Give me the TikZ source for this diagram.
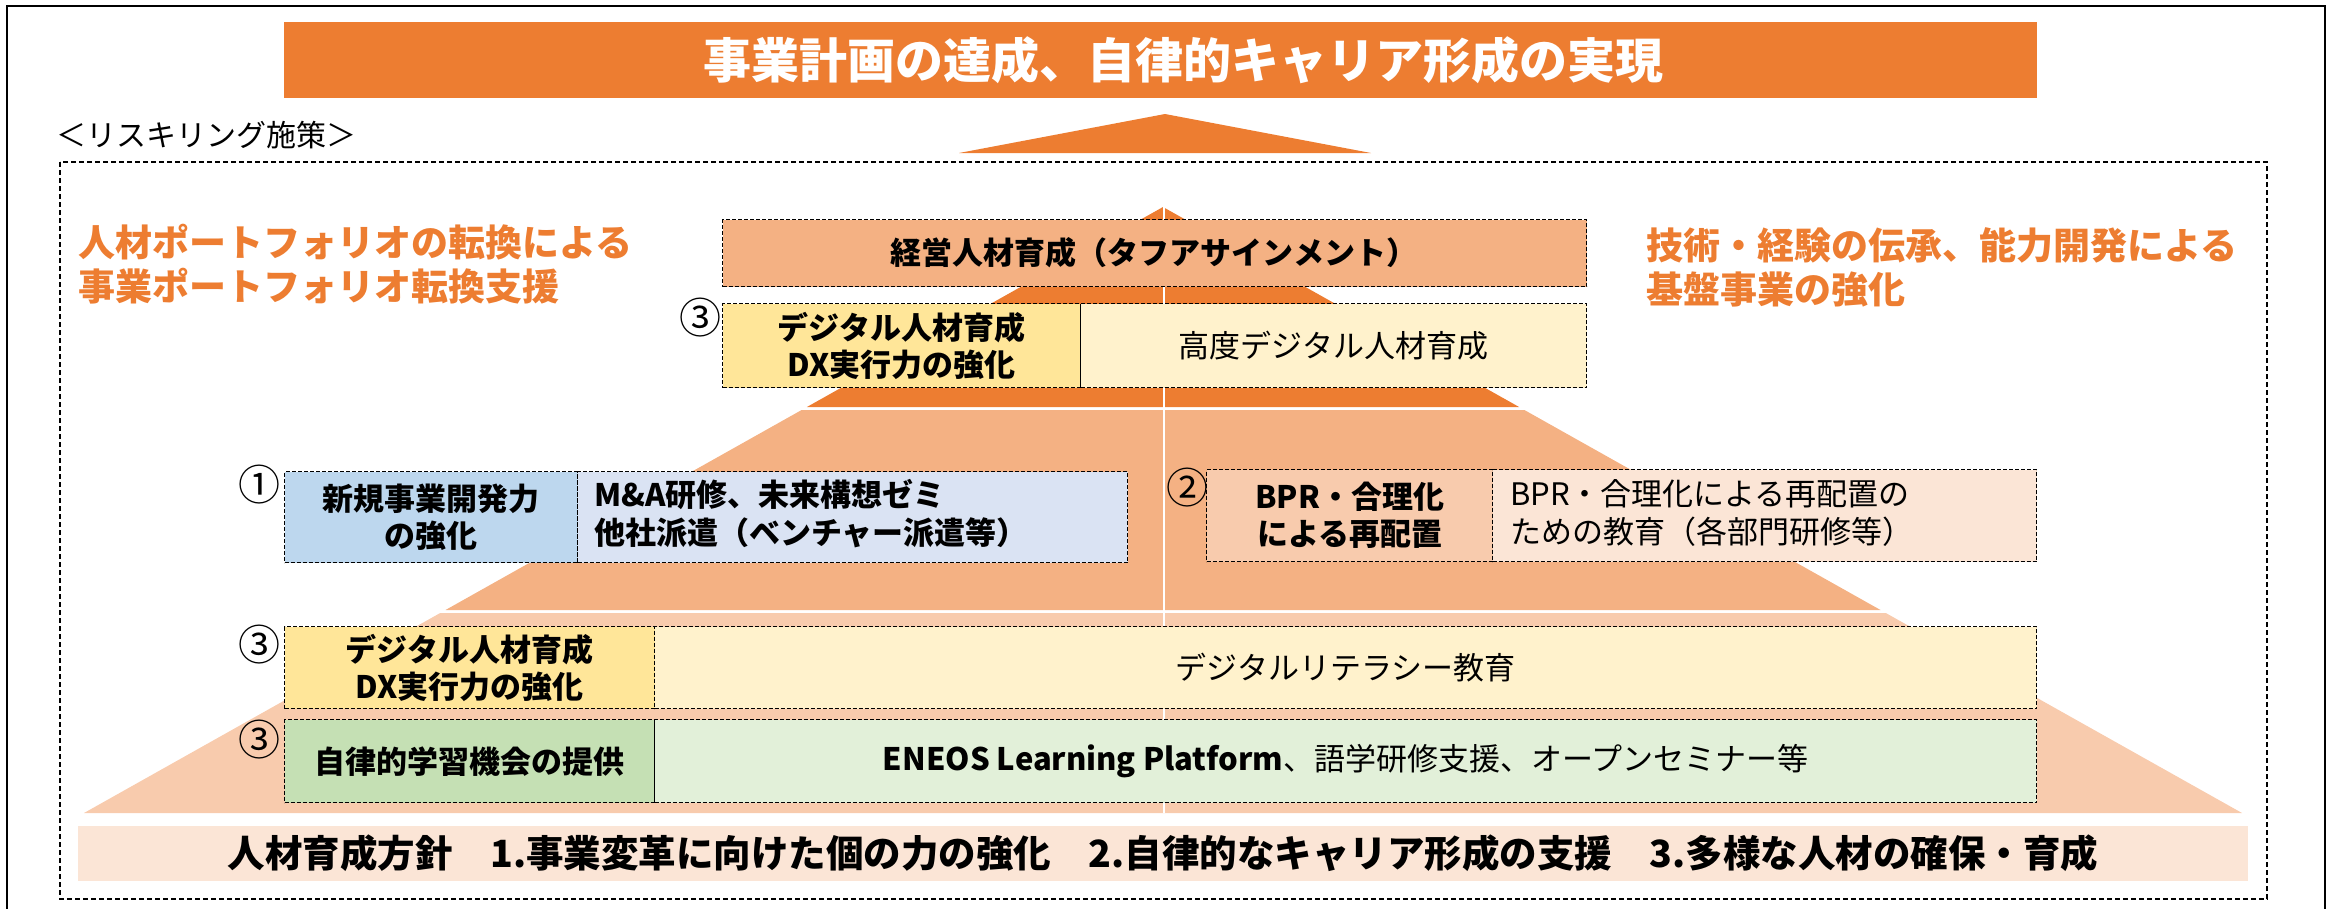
\documentclass[tikz,border=0pt]{standalone}
\usepackage{fontspec}
\setmainfont{Noto Sans CJK JP}
\definecolor{orgA}{HTML}{ED7D31}
\definecolor{orgB}{HTML}{F4B183}
\definecolor{orgC}{HTML}{F8CBAD}
\definecolor{orgD}{HTML}{FBE5D6}
\definecolor{ylwA}{HTML}{FFE699}
\definecolor{ylwB}{HTML}{FFF2CC}
\definecolor{bluA}{HTML}{BDD7EE}
\definecolor{bluB}{HTML}{DAE3F3}
\definecolor{grnA}{HTML}{C5E0B4}
\definecolor{grnB}{HTML}{E2F0D9}
\begin{document}
\begin{tikzpicture}[x=1pt,y=-1pt,
  cell/.style={draw=black,line width=1.3pt,dash pattern=on 4pt off 2pt,inner sep=0pt,anchor=north west},
  boxtxt/.style={font=\fontsize{31}{36}\selectfont,align=center,inner sep=0pt},
  boxtxtl/.style={font=\fontsize{31}{38}\selectfont,align=left,inner sep=0pt,anchor=west},
  sidetxt/.style={font=\fontsize{37}{44}\selectfont\bfseries,text=orgA,align=left,inner sep=0pt,anchor=west},
  num/.style={font=\fontsize{42}{42}\selectfont,inner sep=0pt}]
\useasboundingbox (0,0) rectangle (2341,908);
% outer frame
\draw[line width=2pt] (7,940) -- (7,6) -- (2325,6) -- (2325,940);
% title
\node[fill=orgA,inner sep=0pt,minimum width=1753pt,minimum height=76pt,anchor=north west] (title) at (284,22) {};
\node[font=\fontsize{48}{48}\selectfont\bfseries,text=white,inner sep=0pt] (titletxt) at (1183,60) {事業計画の達成、自律的キャリア形成の実現};
\fill[orgA] (959,153) -- (1165,114) -- (1371,153) -- cycle;
% label
\node[font=\fontsize{30}{30}\selectfont,inner sep=0pt,anchor=west] (lbl) at (56,135) {＜リスキリング施策＞};
% dashed frame
\draw[line width=1.2pt,dash pattern=on 5pt off 3pt] (60,162) rectangle (2267,899);
% side texts
\node[sidetxt] (lefttxt) at (78,264) {人材ポートフォリオの転換による\\事業ポートフォリオ転換支援};
\node[sidetxt] (righttxt) at (1646,267) {技術・経験の伝承、能力開発による\\基盤事業の強化};
% pyramid
\fill[orgA] (1163,207) -- (1519.1,407) -- (806.9,407) -- cycle;
\fill[orgB] (801.6,410) -- (1524.4,410) -- (1880.5,610) -- (445.5,610) -- cycle;
\fill[orgC] (440.2,613) -- (1885.8,613) -- (2242,813) -- (84,813) -- cycle;
\draw[white,line width=2.5pt] (1164,203) -- (1164,813);
% box 1
\node[cell,fill=orgB,minimum width=864pt,minimum height=67pt] (b1) at (722,219) {};
\node[boxtxt,font=\fontsize{31}{36}\selectfont\bfseries] (b1t) at (1154,252.5) {経営人材育成（タフアサインメント）};
% box 2
\node[cell,fill=ylwA,minimum width=358pt,minimum height=84pt] (b2l) at (722,303) {};
\node[cell,fill=ylwB,minimum width=506pt,minimum height=84pt] (b2r) at (1080,303) {};
\node[boxtxt,font=\fontsize{31}{37}\selectfont\bfseries] (b2lt) at (b2l.center) {デジタル人材育成\\DX実行力の強化};
\node[boxtxt] (b2rt) at (b2r.center) {高度デジタル人材育成};
\node[num] (n2) at (700,318) {③};
% row 1
\node[cell,fill=bluA,minimum width=293pt,minimum height=91pt] (r1l) at (284,471) {};
\node[cell,fill=bluB,minimum width=550pt,minimum height=91pt] (r1r) at (577,471) {};
\node[boxtxt,font=\fontsize{31}{37}\selectfont\bfseries] (r1lt) at (r1l.center) {新規事業開発力\\の強化};
\node[boxtxtl,font=\fontsize{31}{38}\selectfont\bfseries] (r1rt) at (594,514) {M\&A研修、未来構想ゼミ\\他社派遣（ベンチャー派遣等）};
\node[num] (n1) at (259,485) {①};
% row 2
\node[cell,fill=orgC,minimum width=286pt,minimum height=92pt] (r2l) at (1206,469) {};
\node[cell,fill=orgD,minimum width=544pt,minimum height=92pt] (r2r) at (1492,469) {};
\node[boxtxt,font=\fontsize{31}{37}\selectfont\bfseries] (r2lt) at (r2l.center) {BPR・合理化\\による再配置};
\node[boxtxtl] (r2rt) at (1510,513) {BPR・合理化による再配置の\\ための教育（各部門研修等）};
\node[num] (n3) at (1187,488) {②};
% row 3
\node[cell,fill=ylwA,minimum width=370pt,minimum height=82pt] (r3l) at (284,626) {};
\node[cell,fill=ylwB,minimum width=1382pt,minimum height=82pt] (r3r) at (654,626) {};
\node[boxtxt,font=\fontsize{31}{37}\selectfont\bfseries] (r3lt) at (r3l.center) {デジタル人材育成\\DX実行力の強化};
\node[boxtxt] (r3rt) at (r3r.center) {デジタルリテラシー教育};
\node[num] (n4) at (259,645) {③};
% row 4
\node[cell,fill=grnA,minimum width=370pt,minimum height=83pt] (r4l) at (284,719) {};
\node[cell,fill=grnB,minimum width=1382pt,minimum height=83pt] (r4r) at (654,719) {};
\node[boxtxt,font=\fontsize{31}{36}\selectfont\bfseries] (r4lt) at (r4l.center) {自律的学習機会の提供};
\node[boxtxt] (r4rt) at (r4r.center) {{\bfseries ENEOS Learning Platform}、語学研修支援、オープンセミナー等};
\node[num] (n5) at (259,740) {③};
% bottom band
\node[fill=orgD,inner sep=0pt,minimum width=2170pt,minimum height=55pt,anchor=north west] (band) at (78,826) {};
\node[font=\fontsize{37.5}{37.5}\selectfont\bfseries,inner sep=0pt] (bandt) at (1163,853.5) {人材育成方針　1.事業変革に向けた個の力の強化　2.自律的なキャリア形成の支援　3.多様な人材の確保・育成};
\end{tikzpicture}
\end{document}
